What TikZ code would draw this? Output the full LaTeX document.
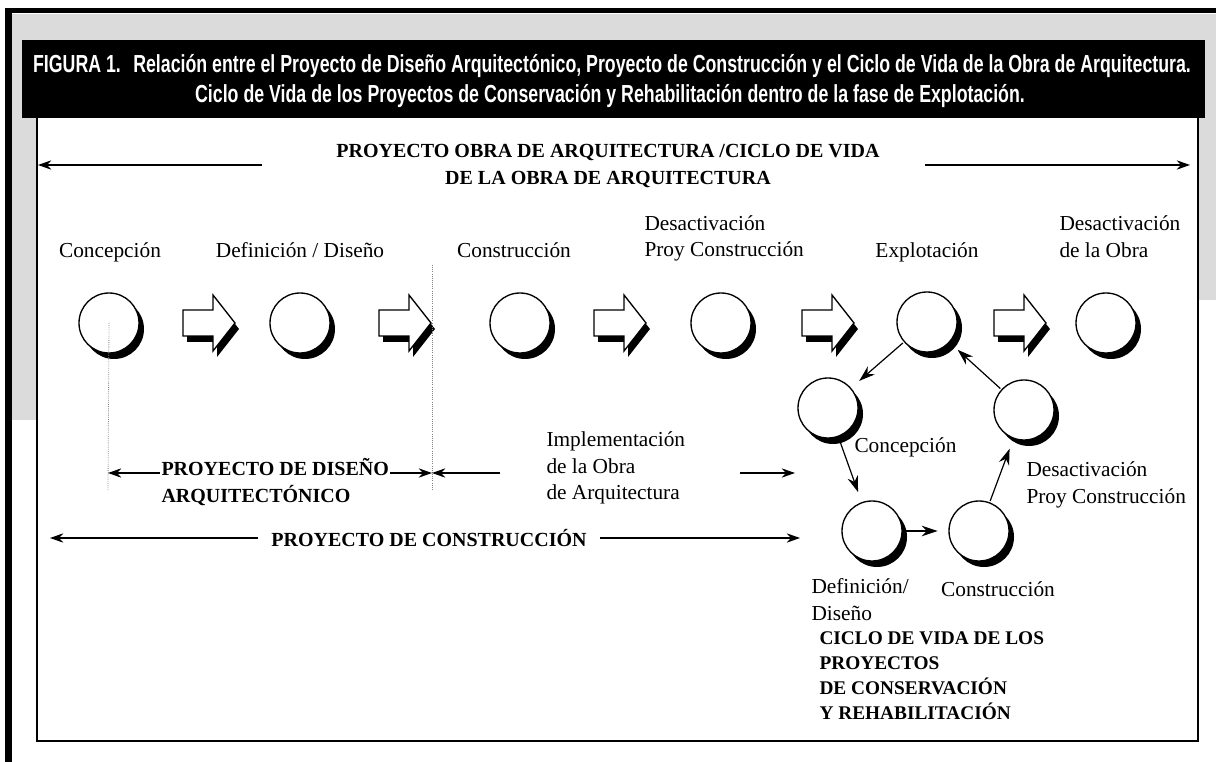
\documentclass[tikz,border=0pt]{standalone}
\usepackage{fontspec}
\setmainfont{Liberation Serif}
\newfontfamily\capfont[FakeStretch=0.72]{Liberation Sans}
\usetikzlibrary{arrows.meta,positioning}

\tikzset{every picture/.style={line width=0.75pt}}
\tikzset{
  phase/.style={circle,draw,fill=white,line width=1pt,minimum size=45pt,inner sep=0pt},
  captxt/.style={text=white,font=\capfont\bfseries\fontsize{18.5}{20}\selectfont,inner sep=0.75pt},
  phasetxt/.style={font=\fontsize{16}{20}\selectfont,inner sep=0.75pt},
  boldtxt/.style={font=\fontsize{15}{20.5}\selectfont\bfseries,inner sep=0.75pt},
  spanarrow/.style={-{Stealth[length=10pt,width=7pt]},line width=1pt},
  cycarrow/.style={-{Stealth[length=12pt,width=8pt]},line width=0.9pt,shorten >=8pt,shorten <=1pt},
  guide/.style={gray,densely dotted,line width=0.6pt}
}

\begin{document}
\begin{tikzpicture}[x=0.75pt,y=0.75pt,yscale=-1,xscale=1]
\useasboundingbox (0,0) rectangle (1216,762);

%Frame
\fill[gray!28] (12,14) rectangle (1216,40);
\fill[gray!28] (12,40) rectangle (37,420);
\fill[gray!28] (1198,40) rectangle (1216,300);
\fill (22,40) rectangle (1205,118);
\fill (5,8) rectangle (1216,13);
\fill (5,8) rectangle (12,762);
\draw[line width=1.2pt] (37,118) -- (37,741) -- (1198,741) -- (1198,118);

% Caption
\node[captxt] (cap1) at (612,66) {FIGURA 1.\enspace Relación entre el Proyecto de Diseño Arquitectónico, Proyecto de Construcción y el Ciclo de Vida de la Obra de Arquitectura.};
\node[captxt] (cap2) at (610,96) {Ciclo de Vida de los Proyectos de Conservación y Rehabilitación dentro de la fase de Explotación.};

% Title
\node[boldtxt,align=center] (titulo) at (608,166) {PROYECTO OBRA DE ARQUITECTURA /CICLO DE VIDA\\DE LA OBRA DE ARQUITECTURA};
\coordinate (tl) at (38,165);
\coordinate (tl0) at (262,165);
\coordinate (tr0) at (925,165);
\coordinate (tr) at (1190,165);
\draw[spanarrow] (tl0) -- (tl);
\draw[spanarrow] (tr0) -- (tr);

%Phases (shadow first, then the circle)
\foreach \name/\x/\y in {c1/109/323,c2/300/323,c3/520/323,c4/721/323,c5/927/322,c6/1106/323,
                          k1/828/408,k2/872/531,k3/979/531,k4/1024/410}{
  \fill (\x+5,\y+6) circle[radius=22.5pt];
  \node[phase] (\name) at (\x,\y) {};
}

%Block arrows
\foreach \x in {209,405,620,828,1020}{
  \fill[shift={(\x+4,329)}] (-26,-13) -- (4,-13) -- (4,-28) -- (26,0) -- (4,28) -- (4,13) -- (-26,13) -- cycle;
  \draw[fill=white,line width=1pt,shift={(\x,323)}] (-26,-13) -- (4,-13) -- (4,-28) -- (26,0) -- (4,28) -- (4,13) -- (-26,13) -- cycle;
}

% Phase labels
\node[phasetxt,anchor=base] (l1) at (110,258) {Concepción};
\node[phasetxt,anchor=base] (l2) at (300,258) {Definición / Diseño};
\node[phasetxt,anchor=base] (l3) at (514,258) {Construcción};
\node[phasetxt,align=left,anchor=south west] (l4) at (643,263) {Desactivación\\Proy Construcción};
\node[phasetxt,anchor=base] (l5) at (927,258) {Explotación};
\node[phasetxt,align=left,anchor=south west] (l6) at (1058,259) {Desactivación\\de la Obra};

%Cycle
\draw[cycarrow] (c5) -- (k1);
\draw[cycarrow] (k1) -- (k2);
\draw[cycarrow] (k2) -- (k3);
\draw[cycarrow] (k3) -- (k4);
\draw[cycarrow] (k4) -- (c5);

% Cycle labels
\node[phasetxt,anchor=west] (kl1) at (853,447) {Concepción};
\node[phasetxt,align=left,anchor=north west] (kl4) at (1025,460) {Desactivación\\Proy Construcción};
\node[phasetxt,align=left,anchor=north west] (kl2) at (810,577) {Definición/\\Diseño};
\node[phasetxt,anchor=base] (kl3) at (998,596) {Construcción};
\node[boldtxt,align=left,anchor=north west,font=\fontsize{14.5}{18.75}\selectfont\bfseries] (ciclo) at (818,630) {CICLO DE VIDA DE LOS\\PROYECTOS\\DE CONSERVACIÓN\\Y REHABILITACIÓN};

%Guides
\coordinate (g1) at (108,473);
\coordinate (g1b) at (108,490);
\coordinate (g2a) at (432,265);
\coordinate (g2) at (432,473);
\coordinate (g2b) at (432,490);
\draw[guide] (c1.center) -- (g1b);
\draw[guide] (g2a) -- (g2b);

% Design project
\node[boldtxt,align=left,anchor=west] (diseno) at (160,482) {PROYECTO DE DISEÑO\\ARQUITECTÓNICO};
\draw[spanarrow] (diseno.west |- g1) -- (g1);
\draw[spanarrow] (diseno.east |- g1) -- (g2);
\coordinate (m1) at (500,473);
\draw[spanarrow] (m1) -- (g2);
\node[phasetxt,align=left,anchor=west] (impl) at (545,468) {Implementación\\de la Obra\\de Arquitectura};
\coordinate (m2) at (740,473);
\coordinate (m3) at (795,473);
\draw[spanarrow] (m2) -- (m3);

% Construction project
\node[boldtxt] (constr) at (429,538) {PROYECTO DE CONSTRUCCIÓN};
\coordinate (b1) at (50,538);
\coordinate (b2) at (800,538);
\draw[spanarrow] ([xshift=-9pt]constr.west) -- (b1);
\draw[spanarrow] ([xshift=9pt]constr.east) -- (b2);

\end{tikzpicture}
\end{document}
